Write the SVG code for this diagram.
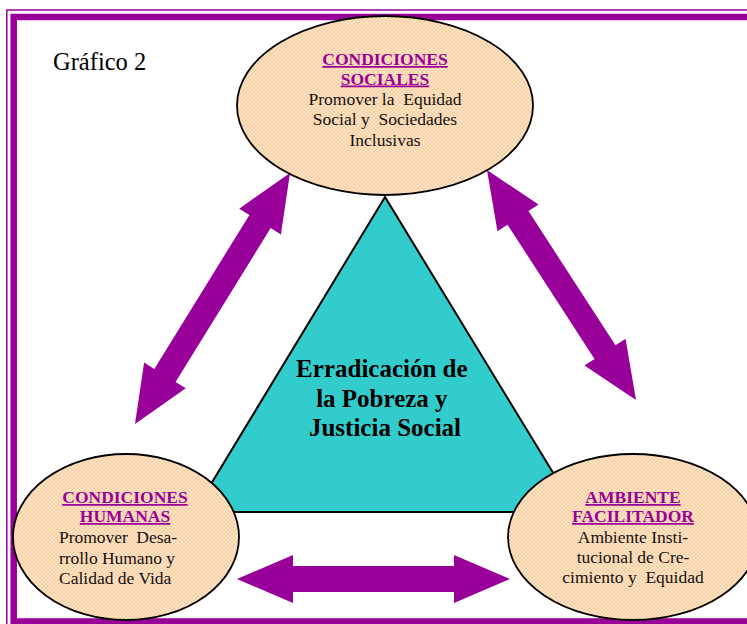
<svg xmlns="http://www.w3.org/2000/svg" width="747" height="624" viewBox="0 0 747 624">
<defs>
<pattern id="peach" width="4" height="4" patternUnits="userSpaceOnUse">
<rect width="4" height="4" fill="#FBCB9B"/>
<path d="M0,0 L4,4 M4,0 L0,4" stroke="#FFEBD6" stroke-width="0.9"/>
</pattern>
<style>
.node ellipse{fill:url(#peach);stroke:#000;stroke-width:1.8}
.head{font-family:"Liberation Serif","Times New Roman",serif;font-weight:bold;font-size:17.5px;fill:#990099;text-decoration:underline;text-anchor:middle}
.body{font-family:"Liberation Serif","Times New Roman",serif;font-size:17.5px;fill:#111}
.mid{text-anchor:middle}
.arrow{fill:#990099}
</style>
</defs>
<rect width="747" height="624" fill="#fff"/>
<g id="border" fill="none" stroke="#990099">
<rect x="6.8" y="10" width="800" height="700" stroke-width="1.5"/>
<rect x="13.7" y="17" width="800" height="604.5" stroke-width="6.5"/>
</g>
<text x="53" y="70" font-family="Liberation Serif, Times New Roman, serif" font-size="24.5" fill="#000">Gráfico 2</text>
<g id="center">
<polygon points="385,197 194,512 577,512" fill="#33CCCC" stroke="#000" stroke-width="2"/>
<text font-family="Liberation Serif, Times New Roman, serif" font-weight="bold" font-size="25" text-anchor="middle" fill="#000">
<tspan x="385" y="377">Erradicación de</tspan>
<tspan x="385" y="407">la Pobreza y</tspan>
<tspan x="385" y="436">Justicia Social</tspan>
</text>
</g>
<g id="connectors" class="arrow">
<polygon transform="translate(212.5,298.5) rotate(-58.3)" points="-147.5,0 -90.5,-24.5 -90.5,-12.5 90.5,-12.5 90.5,-24.5 147.5,0 90.5,24.5 90.5,12.5 -90.5,12.5 -90.5,24.5"/>
<polygon transform="translate(561.5,285) rotate(57.06)" points="-137,0 -80,-24.5 -80,-12.5 80,-12.5 80,-24.5 137,0 80,24.5 80,12.5 -80,12.5 -80,24.5"/>
<polygon points="237,579 293,555 293,566 454,566 454,555 510,579 454,603 454,592 293,592 293,603"/>
</g>
<g id="sociales" class="node">
<ellipse cx="385" cy="105.5" rx="148" ry="89.5"/>
<text class="head"><tspan x="385" y="65">CONDICIONES</tspan><tspan x="385" y="84.5">SOCIALES</tspan></text>
<text class="body mid"><tspan x="385" y="104.5">Promover la&#160; Equidad</tspan><tspan x="385" y="125">Social y&#160; Sociedades</tspan><tspan x="385" y="145.5">Inclusivas</tspan></text>
</g>
<g id="humanas" class="node">
<ellipse cx="126" cy="537" rx="113" ry="83"/>
<text class="head"><tspan x="125" y="503">CONDICIONES</tspan><tspan x="125" y="522">HUMANAS</tspan></text>
<text class="body"><tspan x="59" y="543" textLength="118" lengthAdjust="spacing">Promover&#160; Desa-</tspan><tspan x="59" y="564" textLength="116" lengthAdjust="spacing">rrollo Humano y</tspan><tspan x="59" y="584">Calidad de Vida</tspan></text>
</g>
<g id="facilitador" class="node">
<ellipse cx="633" cy="537" rx="125" ry="83"/>
<text class="head"><tspan x="633" y="503">AMBIENTE</tspan><tspan x="633" y="522">FACILITADOR</tspan></text>
<text class="body mid"><tspan x="633" y="543">Ambiente Insti-</tspan><tspan x="633" y="563">tucional de Cre-</tspan><tspan x="633" y="583">cimiento y&#160; Equidad</tspan></text>
</g>
</svg>
